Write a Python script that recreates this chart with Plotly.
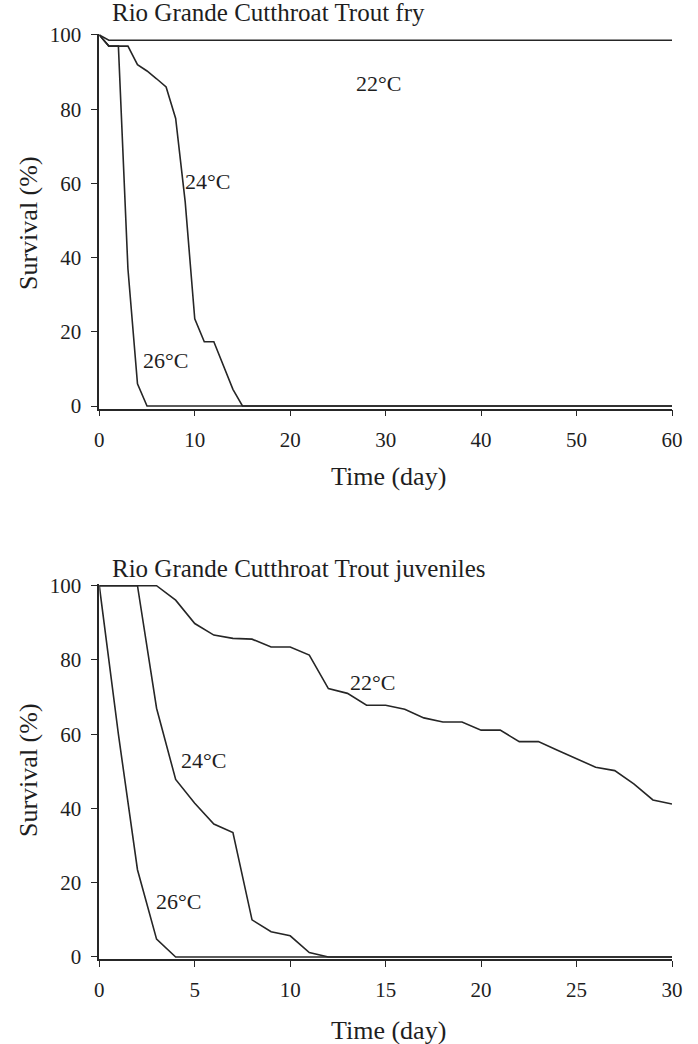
import plotly.graph_objects as go

# ---- Data: fry (top panel), days 0..60 ----
fry_days = list(range(0, 61))
fry_22 = [100, 98.6] + [98.6] * 59
fry_24 = [100, 97, 97, 97, 92, 90.3, 88.2, 86, 77.5, 55, 23.5, 17.3, 17.3, 11, 4.5, 0] + [0] * 45
fry_26 = [100, 97, 97, 37, 6, 0] + [0] * 55

# ---- Data: juveniles (bottom panel), days 0..30 ----
juv_days = list(range(0, 31))
juv_22 = [100, 100, 100, 100, 96.1, 89.8, 86.7, 85.8, 85.6, 83.5, 83.5, 81.3, 72.3, 71.0,
          67.8, 67.8, 66.7, 64.4, 63.3, 63.3, 61.1, 61.1, 58.0, 58.0, 55.7, 53.5, 51.1,
          50.2, 46.6, 42.3, 41.2]
juv_24 = [100, 100, 100, 67, 47.8, 41.4, 35.8, 33.5, 10, 6.8, 5.7, 1.2, 0] + [0] * 18
juv_26 = [100, 60, 23.5, 4.8, 0] + [0] * 26

fry_ticks = [0, 10, 20, 30, 40, 50, 60]
juv_ticks = [0, 5, 10, 15, 20, 25, 30]
y_ticks = [0, 20, 40, 60, 80, 100]

labels_fry = [("22°C", 29.2, 87), ("24°C", 11.3, 60.5), ("26°C", 6.9, 12.3)]
labels_juv = [("22°C", 14.3, 73.9), ("24°C", 5.45, 52.8), ("26°C", 4.15, 14.9)]

FONT = "Liberation Serif"
LINE = "#262626"
TXT = "#1e1e1e"

fig = go.Figure()

for ys in (fry_22, fry_24, fry_26):
    fig.add_trace(go.Scatter(x=fry_days, y=ys, mode="lines", xaxis="x", yaxis="y",
                             line=dict(color=LINE, width=1.6), showlegend=False,
                             hoverinfo="skip"))
for ys in (juv_22, juv_24, juv_26):
    fig.add_trace(go.Scatter(x=juv_days, y=ys, mode="lines", xaxis="x2", yaxis="y2",
                             line=dict(color=LINE, width=1.6), showlegend=False,
                             hoverinfo="skip"))

axis_common = dict(showgrid=False, zeroline=False, showline=True, linecolor=LINE,
                   linewidth=1.7, ticks="outside", ticklen=6, tickwidth=1.4,
                   tickcolor=LINE, automargin=False,
                   tickfont=dict(family=FONT, size=21, color=TXT))

W, H = 698, 1044
xdom = [99.3 / W, 672 / W]

fig.update_layout(
    width=W, height=H,
    margin=dict(l=0, r=0, t=0, b=0, autoexpand=False),
    paper_bgcolor="white", plot_bgcolor="white",
    xaxis=dict(domain=xdom, range=[0, 60], tickvals=fry_ticks, anchor="y",
               ticklabelstandoff=5, **axis_common),
    yaxis=dict(domain=[1 - 408.6 / H, 1 - 33.5 / H], range=[-0.7, 100.4],
               tickvals=y_ticks, anchor="x", ticklabelstandoff=6, **axis_common),
    xaxis2=dict(domain=xdom, range=[0, 30], tickvals=juv_ticks, anchor="y2",
                ticklabelstandoff=5, **axis_common),
    yaxis2=dict(domain=[1 - 959.4 / H, 1 - 584.2 / H], range=[-0.65, 100.4],
                tickvals=y_ticks, anchor="x2", ticklabelstandoff=6, **axis_common),
)

ann = []
for t, x, y in labels_fry:
    ann.append(dict(text=t, x=x, y=y, xref="x", yref="y", showarrow=False,
                    font=dict(family=FONT, size=22, color=TXT)))
for t, x, y in labels_juv:
    ann.append(dict(text=t, x=x, y=y, xref="x2", yref="y2", showarrow=False,
                    font=dict(family=FONT, size=22, color=TXT)))

# panel titles
ann.append(dict(text="Rio Grande Cutthroat Trout fry", x=110 / W, y=1 - 13 / H,
                xref="paper", yref="paper", xanchor="left", yanchor="middle",
                showarrow=False, font=dict(family=FONT, size=25, color=TXT)))
ann.append(dict(text="Rio Grande Cutthroat Trout juveniles", x=110 / W, y=1 - 568 / H,
                xref="paper", yref="paper", xanchor="left", yanchor="middle",
                showarrow=False, font=dict(family=FONT, size=25, color=TXT)))
# axis titles
for yc in (223, 770):
    ann.append(dict(text="Survival (%)", x=28 / W, y=1 - yc / H, xref="paper", yref="paper",
                    textangle=-90, showarrow=False, xanchor="center", yanchor="middle",
                    font=dict(family=FONT, size=26, color=TXT)))
for yc in (477, 1030):
    ann.append(dict(text="Time (day)", x=388 / W, y=1 - yc / H, xref="paper", yref="paper",
                    showarrow=False, xanchor="center", yanchor="middle",
                    font=dict(family=FONT, size=26, color=TXT)))

fig.update_layout(annotations=ann)
fig.write_html("out.html")
